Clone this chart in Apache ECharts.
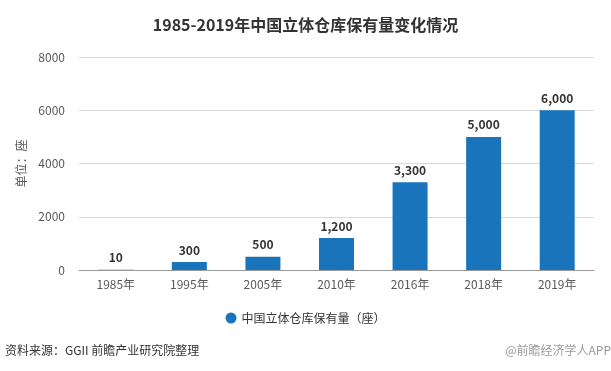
<!DOCTYPE html>
<html><head><meta charset="utf-8">
<script src="https://cdn.jsdelivr.net/npm/echarts@6/dist/echarts.min.js"></script>
<style>html,body{margin:0;padding:0;background:#fff}#c{width:611px;height:371px}</style>
</head><body><div id="c"></div>
<script>
var categories = ['1985年','1995年','2005年','2010年','2016年','2018年','2019年'];
var values = [10, 300, 500, 1200, 3300, 5000, 6000];
var yTicks = [0, 2000, 4000, 6000, 8000];
var seriesName = '中国立体仓库保有量（座）';
var titleText = '1985-2019年中国立体仓库保有量变化情况';
var sourceText = '资料来源：GGII 前瞻产业研究院整理';
var brandText = '@前瞻经济学人APP';
var unitText = '单位：座';

var font = '"Microsoft YaHei","Noto Sans CJK SC",sans-serif';
var chart = echarts.init(document.getElementById('c'), null, {renderer:'canvas'});
chart.setOption({
  backgroundColor:'#fff',
  animation:false,
  textStyle:{fontFamily:font},
  title:{text:titleText,left:'center',top:12,textStyle:{fontSize:16,fontWeight:'bold',color:'#333',fontFamily:font}},
  grid:{left:79,right:17,top:57,bottom:101},
  legend:{bottom:42,left:'center',itemWidth:11,itemHeight:11,icon:'circle',
    textStyle:{fontSize:12,color:'#333'},data:[seriesName]},
  xAxis:{type:'category',data:categories,
    axisLine:{lineStyle:{color:'#999'}},
    axisTick:{alignWithLabel:true,length:4,lineStyle:{color:'#999'}},
    axisLabel:{color:'#595959',fontSize:12,margin:8}},
  yAxis:{type:'value',min:yTicks[0],max:yTicks[yTicks.length-1],interval:2000,
    name:unitText,nameLocation:'middle',nameGap:46,nameRotate:90,
    nameTextStyle:{color:'#595959',fontSize:12},
    axisLine:{show:false},axisTick:{show:false},
    axisLabel:{color:'#595959',fontSize:12,margin:14,formatter:function(v){return String(v);}},
    splitLine:{lineStyle:{color:'#d9d9d9'}}},
  series:[{name:seriesName,type:'bar',data:values,barWidth:35,
    itemStyle:{color:'#1a74bc'},
    label:{show:true,position:'top',distance:6,fontWeight:'bold',fontSize:12,color:'#333',
      formatter:function(p){return p.value.toLocaleString('en-US');}}}],
  graphic:[
    {type:'text',left:5,top:344,style:{text:sourceText,fontSize:12,fill:'#333',fontFamily:font}},
    {type:'text',right:0,top:344,style:{text:brandText,fontSize:12,fill:'#9a9a9a',fontFamily:font}}
  ]
});
</script></body></html>
